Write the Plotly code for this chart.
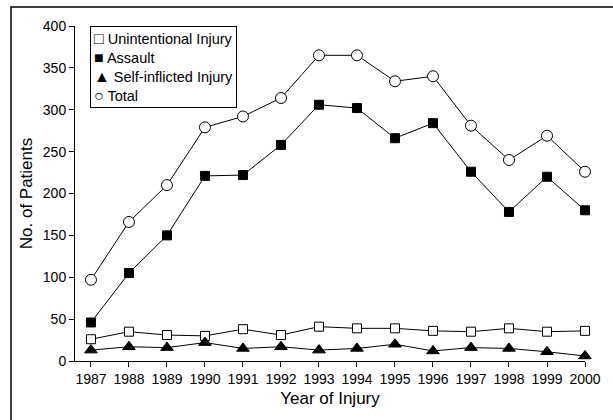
import plotly.graph_objects as go

years = [1987, 1988, 1989, 1990, 1991, 1992, 1993, 1994, 1995, 1996, 1997, 1998, 1999, 2000]
unintentional = [26, 35, 31, 30, 38, 31, 41, 39, 39, 36, 35, 39, 35, 36]
assault = [46, 105, 150, 221, 222, 258, 306, 302, 266, 284, 226, 178, 220, 180]
self_inflicted = [13, 17, 16, 22, 15, 17, 13, 15, 20, 12, 16, 15, 11, 6]
total = [97, 166, 210, 279, 292, 314, 365, 365, 334, 340, 281, 240, 269, 226]
y_ticks = [0, 50, 100, 150, 200, 250, 300, 350, 400]
legend_names = ["Unintentional Injury", "Assault", "Self-inflicted Injury", "Total"]
legend_glyphs = ["\u25a1", "\u25a0", "\u25b2", "\u25cb"]

FONT = "Liberation Sans, Arial, sans-serif"

series = [
    (legend_names[0], unintentional, "square", "white", 9),
    (legend_names[1], assault, "square", "black", 9),
    (legend_names[2], self_inflicted, "triangle-up", "black", 11),
    (legend_names[3], total, "circle", "white", 11),
]

fig = go.Figure()
for name, vals, sym, fill, size in series:
    fig.add_trace(go.Scatter(
        x=years, y=vals, mode="lines+markers", name=name, showlegend=False, cliponaxis=False,
        line=dict(color="black", width=1),
        marker=dict(symbol=sym, size=size, color=fill, line=dict(color="black", width=1)),
        hoverinfo="skip",
    ))

legend_text = "<br>".join(
    f"<span style='font-size:16px'>{g}</span> {n}" for g, n in zip(legend_glyphs, legend_names)
)

fig.update_layout(
    width=613, height=420,
    margin=dict(l=75, r=24, t=26, b=59),
    paper_bgcolor="white", plot_bgcolor="white",
    font=dict(family=FONT, size=14, color="black"),
    showlegend=False,
    xaxis=dict(
        range=[1986.58, 2000], showgrid=False, zeroline=False,
        showline=True, linecolor="black", linewidth=1,
        ticks="outside", ticklen=5, tickcolor="black",
        tickmode="array", tickvals=years, ticktext=[str(y) for y in years],
        title=dict(text="Year of Injury", standoff=6),
    ),
    yaxis=dict(
        range=[0, 400], showgrid=False, zeroline=False,
        showline=True, linecolor="black", linewidth=1,
        ticks="outside", ticklen=5, tickcolor="black",
        tickmode="array", tickvals=y_ticks,
        title=dict(text="No. of Patients", standoff=5),
    ),
    annotations=[dict(
        xref="paper", yref="paper", x=0.03, y=1.0, xanchor="left", yanchor="top",
        text=legend_text, showarrow=False, align="left",
        font=dict(family=FONT, size=14.5, color="black"),
        bordercolor="black", borderwidth=1, borderpad=3, bgcolor="white",
    )],
    shapes=[dict(
        type="rect", xref="paper", yref="paper",
        x0=-0.1255, x1=1.2, y0=-0.3, y1=1.0567,
        line=dict(color="black", width=1.5), fillcolor="rgba(0,0,0,0)", layer="below",
    )],
)

fig.write_html(
    "out.html",
    config={"displayModeBar": False},
    post_script="document.body.style.margin='0';document.body.style.overflow='hidden';",
)
